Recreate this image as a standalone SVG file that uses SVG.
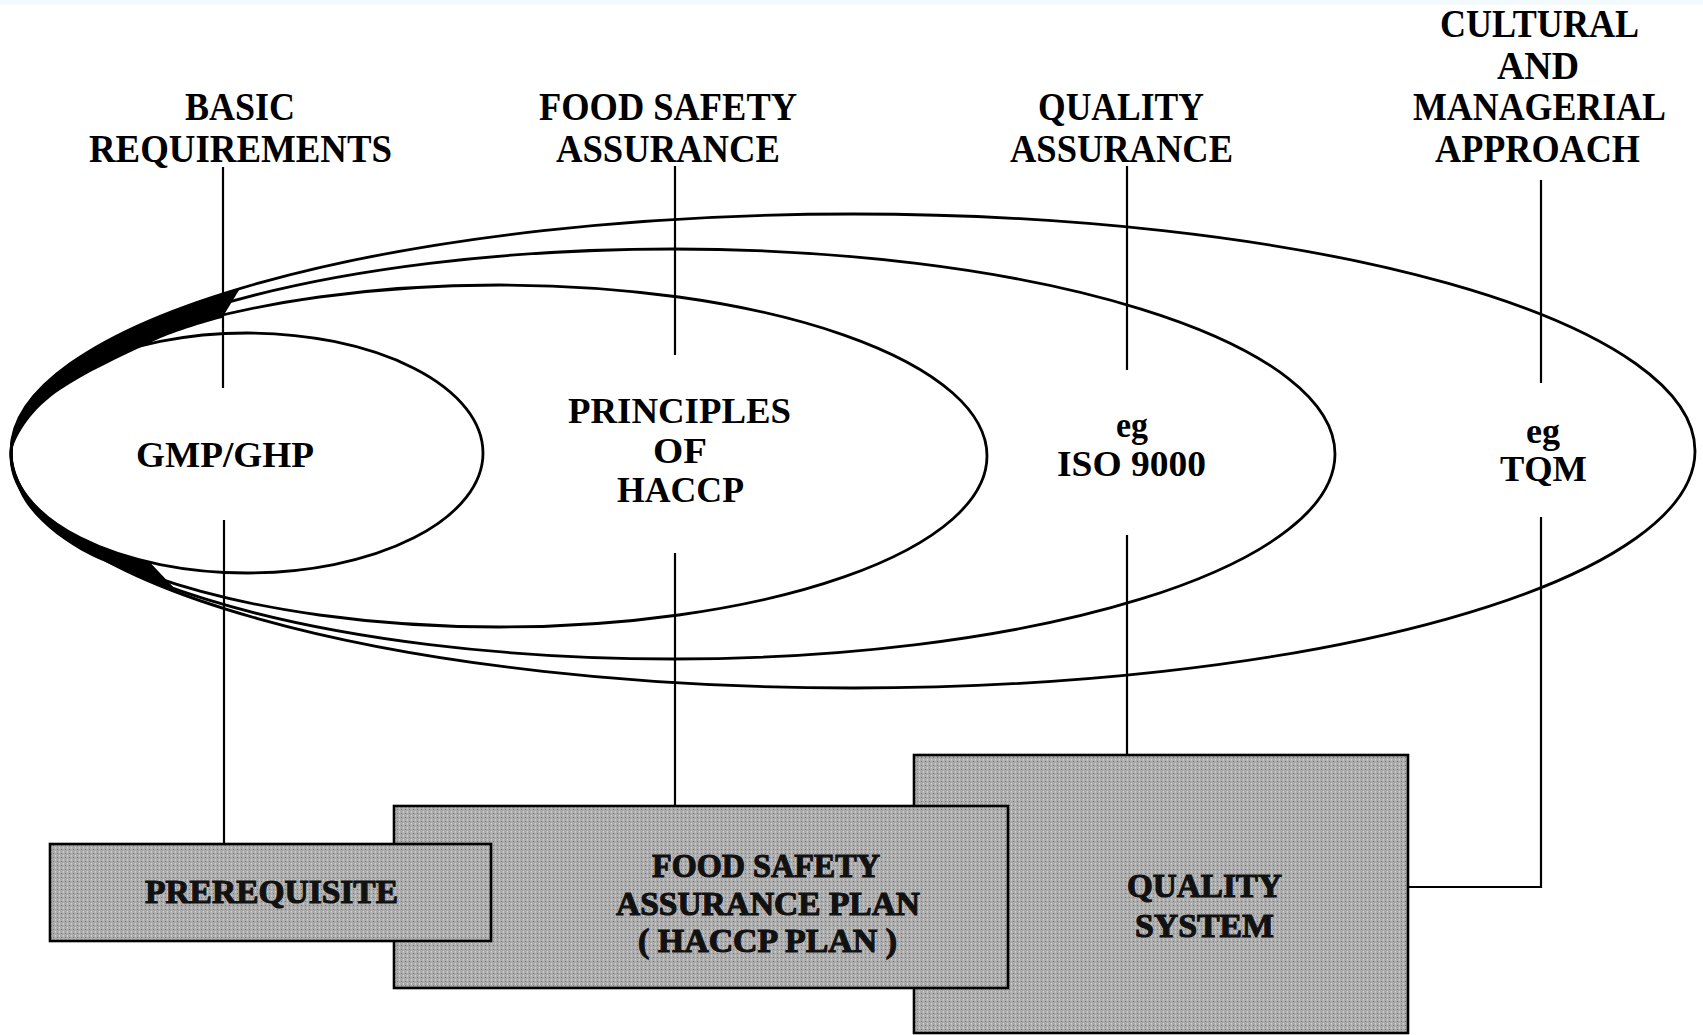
<svg xmlns="http://www.w3.org/2000/svg" width="1703" height="1035" viewBox="0 0 1703 1035">
  <defs>
    <!-- halftone screen used for the shaded boxes -->
    <pattern id="screen" width="4" height="4" patternUnits="userSpaceOnUse">
      <rect width="4" height="4" fill="#ababab"/>
      <rect x="1" y="1" width="1" height="1" fill="#777777"/>
      <rect x="3" y="3" width="1" height="1" fill="#d3d3d3"/>
      <rect x="3" y="0" width="1" height="1" fill="#c4c4c4"/>
    </pattern>
  </defs>
  <style>
    .ring { fill: none; stroke: #000; stroke-width: 2.8; }
    .ink { fill: #000; stroke: none; }
    .link { fill: none; stroke: #000; stroke-width: 2.2; }
    .box { fill: url(#screen); stroke: #000; stroke-width: 2.6; }
    .hd { font-family: "Liberation Serif", "Times New Roman", serif; font-weight: bold; font-size: 40px; fill: #000; }
    .in { font-family: "Liberation Serif", "Times New Roman", serif; font-weight: bold; font-size: 36px; fill: #000; }
    .bx { font-family: "Liberation Serif", "Times New Roman", serif; font-weight: bold; font-size: 33px; fill: #111; stroke: #111; stroke-width: 1.1; }
  </style>

  <rect width="1703" height="1035" fill="#ffffff"/>
  <rect width="1703" height="5" fill="#f2fafd"/>

  <!-- nested scopes, all sharing the same left point -->
  <g id="scope-tqm">
    <ellipse class="ring" cx="853" cy="451" rx="842" ry="237"/>
  </g>
  <g id="scope-iso">
    <ellipse class="ring" cx="673" cy="454" rx="662" ry="205"/>
  </g>
  <g id="scope-haccp">
    <ellipse class="ring" cx="499" cy="456" rx="488" ry="171"/>
  </g>
  <g id="scope-gmp">
    <ellipse class="ring" cx="247" cy="453" rx="236" ry="120"/>
  </g>
  <!-- where the outlines run together on the left they merge into solid ink -->
  <g id="merge">
    <path class="ink" d="M 11,451 A 842 237 0 0 1 240,288.6 L 222,318 C 195,325 165,335 150,343 C 120,357 85,373 60,390 C 38,405 20,425 11,452 Z"/>
    <path class="ink" d="M 11,453 A 236 120 0 0 0 150,562.4 L 177,591 C 150,580 110,565 90,555 C 60,540 30,515 20,492 C 14,478 11,466 11,453 Z"/>
  </g>

  <!-- column headings -->
  <g id="head-basic">
    <text class="hd" x="185" y="120" textLength="110" lengthAdjust="spacingAndGlyphs">BASIC</text>
    <text class="hd" x="89" y="162" textLength="303" lengthAdjust="spacingAndGlyphs">REQUIREMENTS</text>
  </g>
  <g id="head-fsa">
    <text class="hd" x="539" y="120" textLength="258" lengthAdjust="spacingAndGlyphs">FOOD SAFETY</text>
    <text class="hd" x="556" y="162" textLength="224" lengthAdjust="spacingAndGlyphs">ASSURANCE</text>
  </g>
  <g id="head-qa">
    <text class="hd" x="1038" y="120" textLength="166" lengthAdjust="spacingAndGlyphs">QUALITY</text>
    <text class="hd" x="1010" y="162" textLength="223" lengthAdjust="spacingAndGlyphs">ASSURANCE</text>
  </g>
  <g id="head-cma">
    <text class="hd" x="1440" y="37" textLength="199" lengthAdjust="spacingAndGlyphs">CULTURAL</text>
    <text class="hd" x="1497" y="79" textLength="82" lengthAdjust="spacingAndGlyphs">AND</text>
    <text class="hd" x="1413" y="120" textLength="253" lengthAdjust="spacingAndGlyphs">MANAGERIAL</text>
    <text class="hd" x="1435" y="162" textLength="205" lengthAdjust="spacingAndGlyphs">APPROACH</text>
  </g>

  <!-- labels inside the scopes -->
  <g id="label-gmp">
    <text class="in" x="136" y="467" textLength="178" lengthAdjust="spacingAndGlyphs">GMP/GHP</text>
  </g>
  <g id="label-haccp">
    <text class="in" x="568" y="423" textLength="223" lengthAdjust="spacingAndGlyphs">PRINCIPLES</text>
    <text class="in" x="653" y="463" textLength="54" lengthAdjust="spacingAndGlyphs">OF</text>
    <text class="in" x="617" y="502" textLength="127" lengthAdjust="spacingAndGlyphs">HACCP</text>
  </g>
  <g id="label-iso">
    <text class="in" x="1116" y="437" textLength="32" lengthAdjust="spacingAndGlyphs">eg</text>
    <text class="in" x="1057" y="476" textLength="149" lengthAdjust="spacingAndGlyphs">ISO 9000</text>
  </g>
  <g id="label-tqm">
    <text class="in" x="1526" y="443" textLength="34" lengthAdjust="spacingAndGlyphs">eg</text>
    <text class="in" x="1500" y="481" textLength="87" lengthAdjust="spacingAndGlyphs">TQM</text>
  </g>

  <!-- connectors -->
  <g id="connectors">
    <line class="link" x1="223" y1="167" x2="223" y2="388"/>
    <line class="link" x1="675" y1="166" x2="675" y2="355"/>
    <line class="link" x1="1127" y1="166" x2="1127" y2="370"/>
    <line class="link" x1="1541" y1="180" x2="1541" y2="383"/>
    <line class="link" x1="224" y1="520" x2="224" y2="844"/>
    <line class="link" x1="675" y1="553" x2="675" y2="806"/>
    <line class="link" x1="1127" y1="535" x2="1127" y2="755"/>
    <polyline class="link" points="1541,517 1541,887 1408,887"/>
  </g>

  <!-- shaded output boxes, back to front -->
  <g id="box-quality">
    <rect class="box" x="914" y="755" width="494" height="278"/>
    <text class="bx" x="1127" y="897" textLength="155" lengthAdjust="spacingAndGlyphs">QUALITY</text>
    <text class="bx" x="1135" y="937" textLength="139" lengthAdjust="spacingAndGlyphs">SYSTEM</text>
  </g>
  <g id="box-fsap">
    <rect class="box" x="394" y="806" width="614" height="182"/>
    <text class="bx" x="652" y="877" textLength="228" lengthAdjust="spacingAndGlyphs">FOOD SAFETY</text>
    <text class="bx" x="616" y="915" textLength="304" lengthAdjust="spacingAndGlyphs">ASSURANCE PLAN</text>
    <text class="bx" x="638" y="952" textLength="259" lengthAdjust="spacingAndGlyphs">( HACCP PLAN )</text>
  </g>
  <g id="box-prereq">
    <rect class="box" x="50" y="844" width="441" height="97"/>
    <text class="bx" x="145" y="903" textLength="253" lengthAdjust="spacingAndGlyphs">PREREQUISITE</text>
  </g>
</svg>
